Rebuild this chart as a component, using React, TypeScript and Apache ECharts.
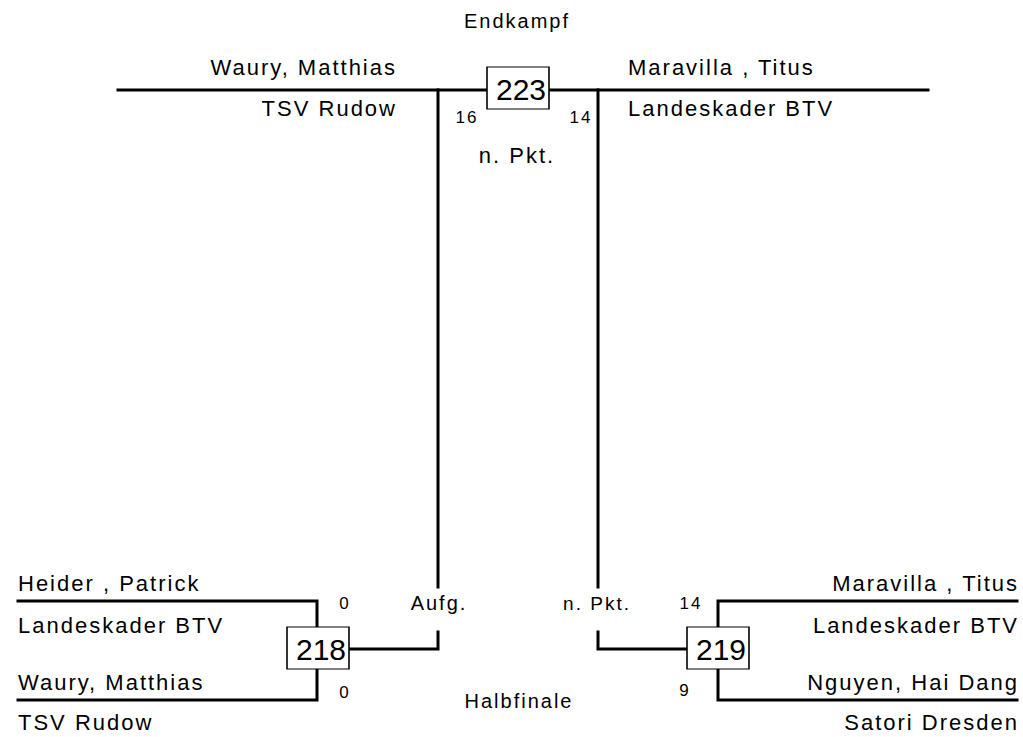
import React, { useEffect, useRef } from "react";
import * as echarts from "echarts";

// ---------- data ----------
const roundLabels = ["Halbfinale", "Endkampf"];
const semiPlayers = ["Heider , Patrick", "Waury, Matthias", "Maravilla , Titus", "Nguyen, Hai Dang"];
const semiClubs = ["Landeskader BTV", "TSV Rudow", "Landeskader BTV", "Satori Dresden"];
const semiScores = ["0", "0", "14", "9"];
const semiMatchNumbers = ["218", "219"];
const semiResults = ["Aufg.", "n. Pkt."];
const finalPlayers = ["Waury, Matthias", "Maravilla , Titus"];
const finalClubs = ["TSV Rudow", "Landeskader BTV"];
const finalScores = ["16", "14"];
const finalMatchNumber = "223";
const finalResult = "n. Pkt.";

// ---------- layout (pixel coordinates of the bracket) ----------
const L = {
  topY: 90,
  topLeftX: 118,
  topRightX: 928,
  finalLeftX: 438,
  finalRightX: 598,
  gapTop: 587,
  gapBottom: 632,
  connY: 649,
  semiTopY: 601,
  semiBotY: 700,
  semiLeftOuterX: 18,
  semiLeftInnerX: 317,
  semiRightOuterX: 1017,
  semiRightInnerX: 718,
  boxW: 62,
  boxH: 42,
};

const FONT = "Liberation Sans";
const SPACING = 2; // letter spacing (px) applied via CSS to text
const SHIFT: Record<string, number> = { left: 0, center: SPACING / 2, right: SPACING };

function txt(value: string, x: number, y: number, size: number, align: string) {
  return {
    value: [x + SHIFT[align], y],
    name: value,
    label: {
      show: true,
      position: "inside",
      formatter: value,
      align,
      verticalAlign: "middle",
      fontSize: size,
      fontFamily: FONT,
      color: "#000",
    },
  };
}

export default function App() {
  const ref = useRef<HTMLDivElement>(null);
  useEffect(() => {
    if (!ref.current) return;
    const chart = echarts.init(ref.current, null, { renderer: "svg" });

    const lineData = [
      { coords: [[L.topLeftX, L.topY], [L.topRightX, L.topY]] },
      { coords: [[L.finalLeftX, L.topY], [L.finalLeftX, L.gapTop]] },
      { coords: [[L.finalLeftX, L.gapBottom], [L.finalLeftX, L.connY], [L.semiLeftInnerX + L.boxW / 2, L.connY]] },
      { coords: [[L.finalRightX, L.topY], [L.finalRightX, L.gapTop]] },
      { coords: [[L.finalRightX, L.gapBottom], [L.finalRightX, L.connY], [L.semiRightInnerX - L.boxW / 2, L.connY]] },
      { coords: [[L.semiLeftOuterX, L.semiTopY], [L.semiLeftInnerX, L.semiTopY], [L.semiLeftInnerX, L.semiBotY], [L.semiLeftOuterX, L.semiBotY]] },
      { coords: [[L.semiRightOuterX, L.semiTopY], [L.semiRightInnerX, L.semiTopY], [L.semiRightInnerX, L.semiBotY], [L.semiRightOuterX, L.semiBotY]] },
    ];

    const nameSize = 22;
    const smallSize = 20;
    const scoreSize = 17;
    const textData = [
      txt(roundLabels[1], 516, 21, smallSize, "center"),
      txt(finalPlayers[0], 395, 67, nameSize, "right"),
      txt(finalClubs[0], 395, 108, nameSize, "right"),
      txt(finalPlayers[1], 628, 67, nameSize, "left"),
      txt(finalClubs[1], 628, 108, nameSize, "left"),
      txt(finalScores[0], 466, 117, scoreSize, "center"),
      txt(finalScores[1], 580, 117, scoreSize, "center"),
      txt(finalResult, 516, 155, 22, "center"),
      txt(semiPlayers[0], L.semiLeftOuterX, 583, nameSize, "left"),
      txt(semiClubs[0], L.semiLeftOuterX, 625, nameSize, "left"),
      txt(semiPlayers[1], L.semiLeftOuterX, 682, nameSize, "left"),
      txt(semiClubs[1], L.semiLeftOuterX, 722, nameSize, "left"),
      txt(semiScores[0], 344, 603, scoreSize, "center"),
      txt(semiScores[1], 344, 692, scoreSize, "center"),
      txt(semiResults[0], L.finalLeftX, 603, 20, "center"),
      txt(semiResults[1], L.finalRightX - 2, 603, 19, "center"),
      txt(semiScores[2], 690, 603, scoreSize, "center"),
      txt(semiScores[3], 684, 690, scoreSize, "center"),
      txt(roundLabels[0], 518, 701, smallSize, "center"),
      txt(semiPlayers[2], L.semiRightOuterX, 583, nameSize, "right"),
      txt(semiClubs[2], L.semiRightOuterX, 625, nameSize, "right"),
      txt(semiPlayers[3], L.semiRightOuterX, 682, nameSize, "right"),
      txt(semiClubs[3], L.semiRightOuterX, 722, nameSize, "right"),
    ];

    const boxData = [
      { value: [L.semiLeftInnerX + 1, L.connY - 1], name: semiMatchNumbers[0] },
      { value: [L.semiRightInnerX, L.connY - 1], name: semiMatchNumbers[1] },
      { value: [(L.finalLeftX + L.finalRightX) / 2, L.topY - 2], name: finalMatchNumber },
    ];

    chart.setOption({
      animation: false,
      backgroundColor: "#fff",
      grid: { left: 0, right: 0, top: 0, bottom: 0 },
      xAxis: { type: "value", min: 0, max: 1023, show: false },
      yAxis: { type: "value", min: 0, max: 737, inverse: true, show: false },
      series: [
        {
          type: "lines",
          coordinateSystem: "cartesian2d",
          polyline: true,
          silent: true,
          z: 1,
          lineStyle: { color: "#000", width: 3, opacity: 1, cap: "square" },
          data: lineData,
        },
        {
          type: "scatter",
          silent: true,
          z: 3,
          symbol: "rect",
          symbolSize: [L.boxW, L.boxH],
          itemStyle: { color: "#fff", borderColor: "#000", borderWidth: 1.3, opacity: 1 },
          label: {
            show: true,
            position: "inside",
            offset: [3, 1],
            formatter: (p: any) => p.name,
            fontSize: 30,
            fontFamily: FONT,
            color: "#000",
          },
          data: boxData,
        },
        {
          type: "scatter",
          silent: true,
          z: 4,
          symbolSize: 0,
          itemStyle: { color: "rgba(0,0,0,0)", opacity: 1 },
          data: textData,
        },
      ],
    });
    return () => chart.dispose();
  }, []);
  return (
    <>
      <style>{`
        .bracket text { letter-spacing: ${SPACING}px; }
        .bracket text[style*="30px"] { letter-spacing: 0px; }
      `}</style>
      <div
        ref={ref}
        className="bracket"
        style={{ position: "absolute", left: 0, top: 0, width: 1023, height: 737 }}
      />
    </>
  );
}
